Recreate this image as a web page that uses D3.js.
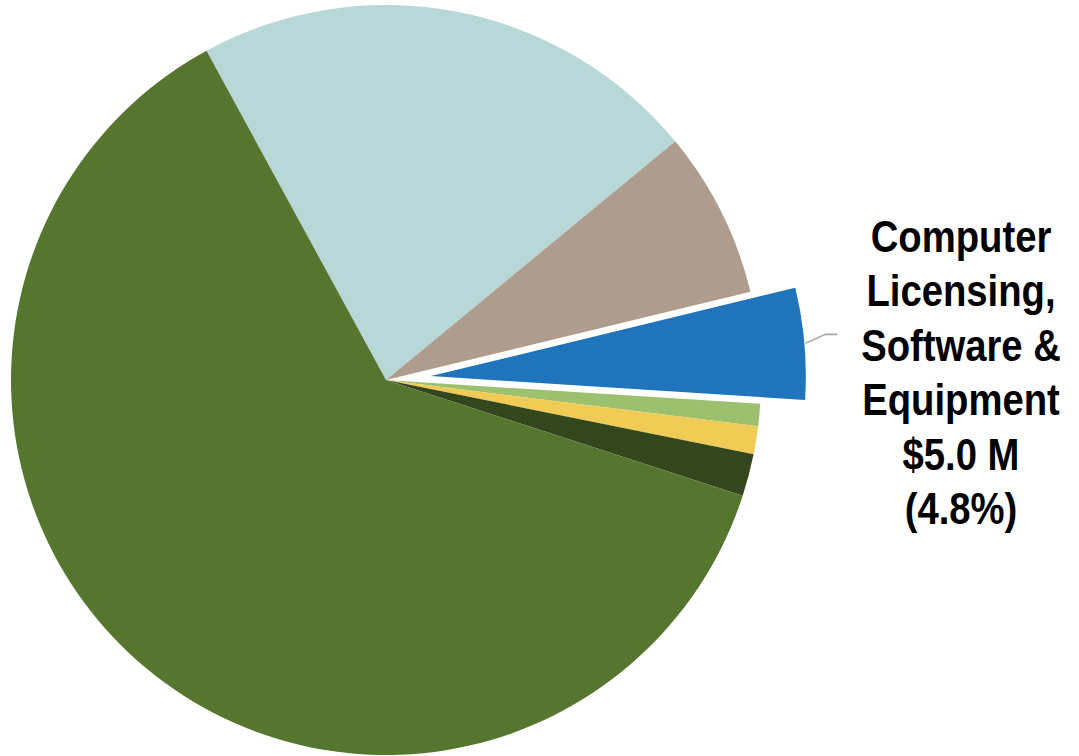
<!DOCTYPE html>
<html>
<head>
<meta charset="utf-8">
<script src="https://cdn.jsdelivr.net/npm/d3@7"></script>
<style>
  html, body { margin: 0; padding: 0; background: #ffffff; }
  svg { display: block; }
</style>
</head>
<body>
<svg id="chart" width="1079" height="756"></svg>
<script>
// ---- data (values in $ millions, clockwise from the top-left edge) ----
const categories = ["Slice A", "Slice B", "Computer Licensing, Software & Equipment", "Slice D", "Slice E", "Slice F", "Slice G"];
const values = [22.9, 7.5, 5.0, 1.0, 1.25, 1.9, 64.7];
const colors = ["#b8d7d7", "#ae9d8e", "#1f74bb", "#9bc16f", "#f0cb55", "#33461e", "#56762f"];
const explodedIndex = 2;
const labelLines = ["Computer", "Licensing,", "Software &", "Equipment", "$5.0 M", "(4.8%)"];

// ---- layout ----
const svg = d3.select("#chart");
const cx = 386, cy = 380, radius = 375, explode = 45;
const startDeg = -28.6;

const data = categories.map((c, i) => ({ name: c, value: values[i], color: colors[i] }));

const pie = d3.pie()
  .value(d => d.value)
  .sort(null)
  .startAngle(startDeg * Math.PI / 180)
  .endAngle(startDeg * Math.PI / 180 + 2 * Math.PI);

const arc = d3.arc().innerRadius(0).outerRadius(radius);
const arcs = pie(data);

const g = svg.append("g").attr("transform", `translate(${cx},${cy})`);

function offset(d, i) {
  if (i !== explodedIndex) return [0, 0];
  const mid = (d.startAngle + d.endAngle) / 2;
  return [explode * Math.sin(mid), -explode * Math.cos(mid)];
}

g.selectAll("path.slice")
  .data(arcs)
  .join("path")
  .attr("class", "slice")
  .attr("d", arc)
  .attr("fill", d => d.data.color)
  .attr("transform", (d, i) => { const o = offset(d, i); return `translate(${o[0]},${o[1]})`; });

// ---- leader line & label for the exploded slice ----
const ex = arcs[explodedIndex];
const eo = offset(ex, explodedIndex);
const mid = (ex.startAngle + ex.endAngle) / 2;
const p0 = [eo[0] + (radius + 1) * Math.sin(mid), eo[1] - (radius + 1) * Math.cos(mid)];
const p1 = [p0[0] + 20, p0[1] - 9];
const p2 = [p1[0] + 12, p1[1]];

g.append("polyline")
  .attr("points", [p0, p1, p2].map(p => p.join(",")).join(" "))
  .attr("fill", "none")
  .attr("stroke", "#a6a6a6")
  .attr("stroke-width", 1.6);

const labelX = 961;
const label = svg.append("g")
  .attr("transform", `translate(${labelX},0) scale(0.85,1)`)
  .append("text")
  .attr("x", 0)
  .attr("y", 252)
  .attr("text-anchor", "middle")
  .attr("font-family", "'Liberation Sans Narrow', 'Arial Narrow', 'Liberation Sans', Arial, sans-serif")
  .attr("font-weight", "bold")
  .attr("font-size", 45)
  .attr("fill", "#000000");

label.selectAll("tspan")
  .data(labelLines)
  .join("tspan")
  .attr("x", 0)
  .attr("dy", (d, i) => i === 0 ? 0 : 54.4)
  .text(d => d);
</script>
</body>
</html>
